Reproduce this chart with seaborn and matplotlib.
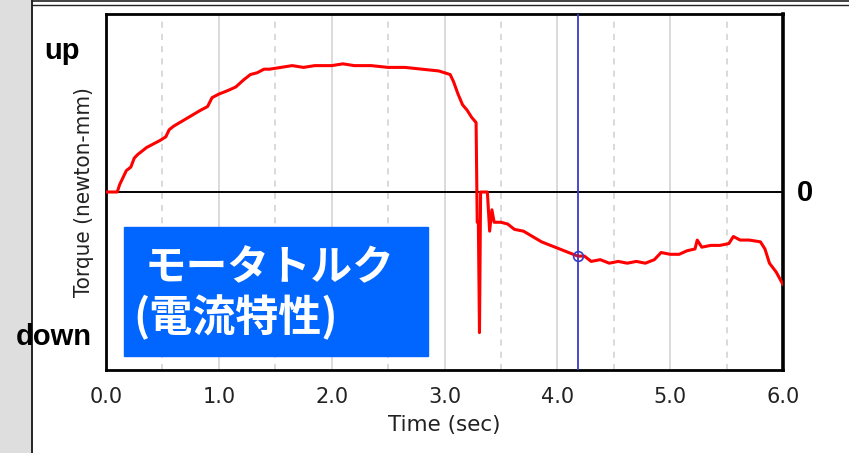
import numpy as np
import pandas as pd
import seaborn as sns
import matplotlib.pyplot as plt
from matplotlib.ticker import MultipleLocator, FormatStrFormatter
from matplotlib.patches import Rectangle
from matplotlib.lines import Line2D

# torque trace (time in sec, torque normalised -1..1)
time_sec = [0.00, 0.10, 0.12, 0.15, 0.18, 0.22, 0.25, 0.28, 0.32, 0.36, 0.42, 0.48,
            0.53, 0.56, 0.60, 0.68, 0.76, 0.84, 0.90, 0.94, 1.00, 1.08, 1.15, 1.22,
            1.28, 1.34, 1.40, 1.45, 1.55, 1.65, 1.75, 1.85, 2.00, 2.10, 2.20, 2.35,
            2.50, 2.65, 2.80, 2.95, 3.05, 3.08, 3.12, 3.16, 3.20, 3.24, 3.28, 3.29,
            3.30, 3.31, 3.32, 3.38, 3.40, 3.42, 3.44, 3.50, 3.56, 3.62, 3.70, 3.78,
            3.86, 3.94, 4.02, 4.10, 4.18, 4.24, 4.30, 4.38, 4.46, 4.54, 4.62, 4.70,
            4.78, 4.86, 4.92, 5.00, 5.08, 5.15, 5.22, 5.24, 5.28, 5.36, 5.44, 5.52,
            5.56, 5.62, 5.70, 5.80, 5.84, 5.88, 5.94, 6.00]
torque = [0.00, 0.00, 0.04, 0.08, 0.12, 0.14, 0.19, 0.21, 0.23, 0.25, 0.27, 0.29,
          0.31, 0.35, 0.37, 0.40, 0.43, 0.46, 0.48, 0.53, 0.55, 0.57, 0.59, 0.63,
          0.66, 0.67, 0.69, 0.69, 0.70, 0.71, 0.70, 0.71, 0.71, 0.72, 0.71, 0.71,
          0.70, 0.70, 0.69, 0.68, 0.66, 0.62, 0.55, 0.49, 0.46, 0.42, 0.39, -0.17,
          -0.17, -0.79, 0.00, 0.00, -0.22, -0.10, -0.17, -0.17, -0.18, -0.21, -0.22, -0.25,
          -0.28, -0.30, -0.32, -0.34, -0.36, -0.36, -0.39, -0.38, -0.40, -0.39, -0.40, -0.39,
          -0.40, -0.38, -0.34, -0.35, -0.35, -0.33, -0.32, -0.27, -0.31, -0.30, -0.30, -0.29,
          -0.25, -0.27, -0.27, -0.28, -0.32, -0.40, -0.45, -0.52]

cursor_time = 4.18
cursor_torque = -0.36

df = pd.DataFrame({'time': time_sec, 'torque': torque})

sns.set_style('white')
plt.rcParams['font.family'] = ['DejaVu Sans']

fig = plt.figure(figsize=(8.49, 4.53), dpi=100)
ax = fig.add_axes([106/849, 1-370/453, 677/849, 356/453])

# window frame bits
fig.add_artist(Rectangle((0, 0), 30/849, 1, transform=fig.transFigure, color='#dedede', zorder=0))
fig.add_artist(Line2D([32/849, 32/849], [0, 1], transform=fig.transFigure, color='black', lw=1.2))
fig.add_artist(Line2D([32/849, 1], [1-1/453, 1-1/453], transform=fig.transFigure, color='#222222', lw=1.2))
fig.add_artist(Line2D([32/849, 1], [1-5/453, 1-5/453], transform=fig.transFigure, color='#222222', lw=1.0))

ax.xaxis.set_major_locator(MultipleLocator(1.0))
ax.xaxis.set_minor_locator(MultipleLocator(0.5))
ax.xaxis.set_major_formatter(FormatStrFormatter('%.1f'))
ax.grid(which='major', axis='x', color='#d8d8d8', lw=1.3, ls='-')
ax.grid(which='minor', axis='x', color='#d0d0d0', lw=1.1, ls=(0, (4, 4)))
ax.set_axisbelow(True)

ax.axhline(0, color='black', lw=1.4, zorder=2)

sns.lineplot(data=df, x='time', y='torque', sort=False, estimator=None,
             color='#ff0000', lw=2.2, ax=ax, zorder=3)

ax.axvline(cursor_time, color='#3a3ac8', lw=1.3, zorder=4)
ax.plot([cursor_time], [cursor_torque], 'o', mfc='none', mec='#3a3ac8', ms=7, mew=1.2, zorder=5)

ax.set_xlim(0, 6)
ax.set_ylim(-1, 1)
ax.set_yticks([-1, 0, 1])
ax.set_yticklabels([])
ax.tick_params(axis='x', which='both', direction='out', length=4, width=1.2,
               labelsize=15, colors='black', labelcolor='#222222', pad=8)
ax.tick_params(axis='y', direction='out', length=3, width=1, pad=2)
for s in ax.spines.values():
    s.set_color('black')
    s.set_linewidth(2.0)
ax.spines['right'].set_linewidth(2.6)

ax.set_xlabel('Time (sec)', fontsize=15.5, color='#222222', labelpad=6)
ax.set_ylabel('Torque (newton-mm)', fontsize=16, color='#222222', labelpad=4,
              fontstretch='condensed')

fig.text(62/849, 1-51/453, 'up', fontsize=21, fontweight='bold', family='Liberation Sans',
         color='black', ha='center', va='center')
fig.text(54/849, 1-337/453, 'down', fontsize=21, fontweight='bold', family='Liberation Sans',
         color='black', ha='center', va='center')
fig.text(805/849, 1-193/453, '0', fontsize=21, fontweight='bold', family='Liberation Sans',
         color='black', ha='center', va='center')

fig.add_artist(Rectangle((124/849, 1-356/453), 304/849, 129/453, transform=fig.transFigure,
                         color='#0066ff', zorder=6))
fig.text(145/849, 1-268/453, 'モータトルク', fontsize=30, fontweight='bold', color='white',
         family=['Noto Sans CJK JP', 'DejaVu Sans'], ha='left', va='center', zorder=7)
fig.text(133/849, 1-317/453, '(電流特性)', fontsize=31, fontweight='bold', color='white',
         family=['Noto Sans CJK JP', 'DejaVu Sans'], ha='left', va='center', zorder=7)

plt.savefig('out.png', dpi=100)
